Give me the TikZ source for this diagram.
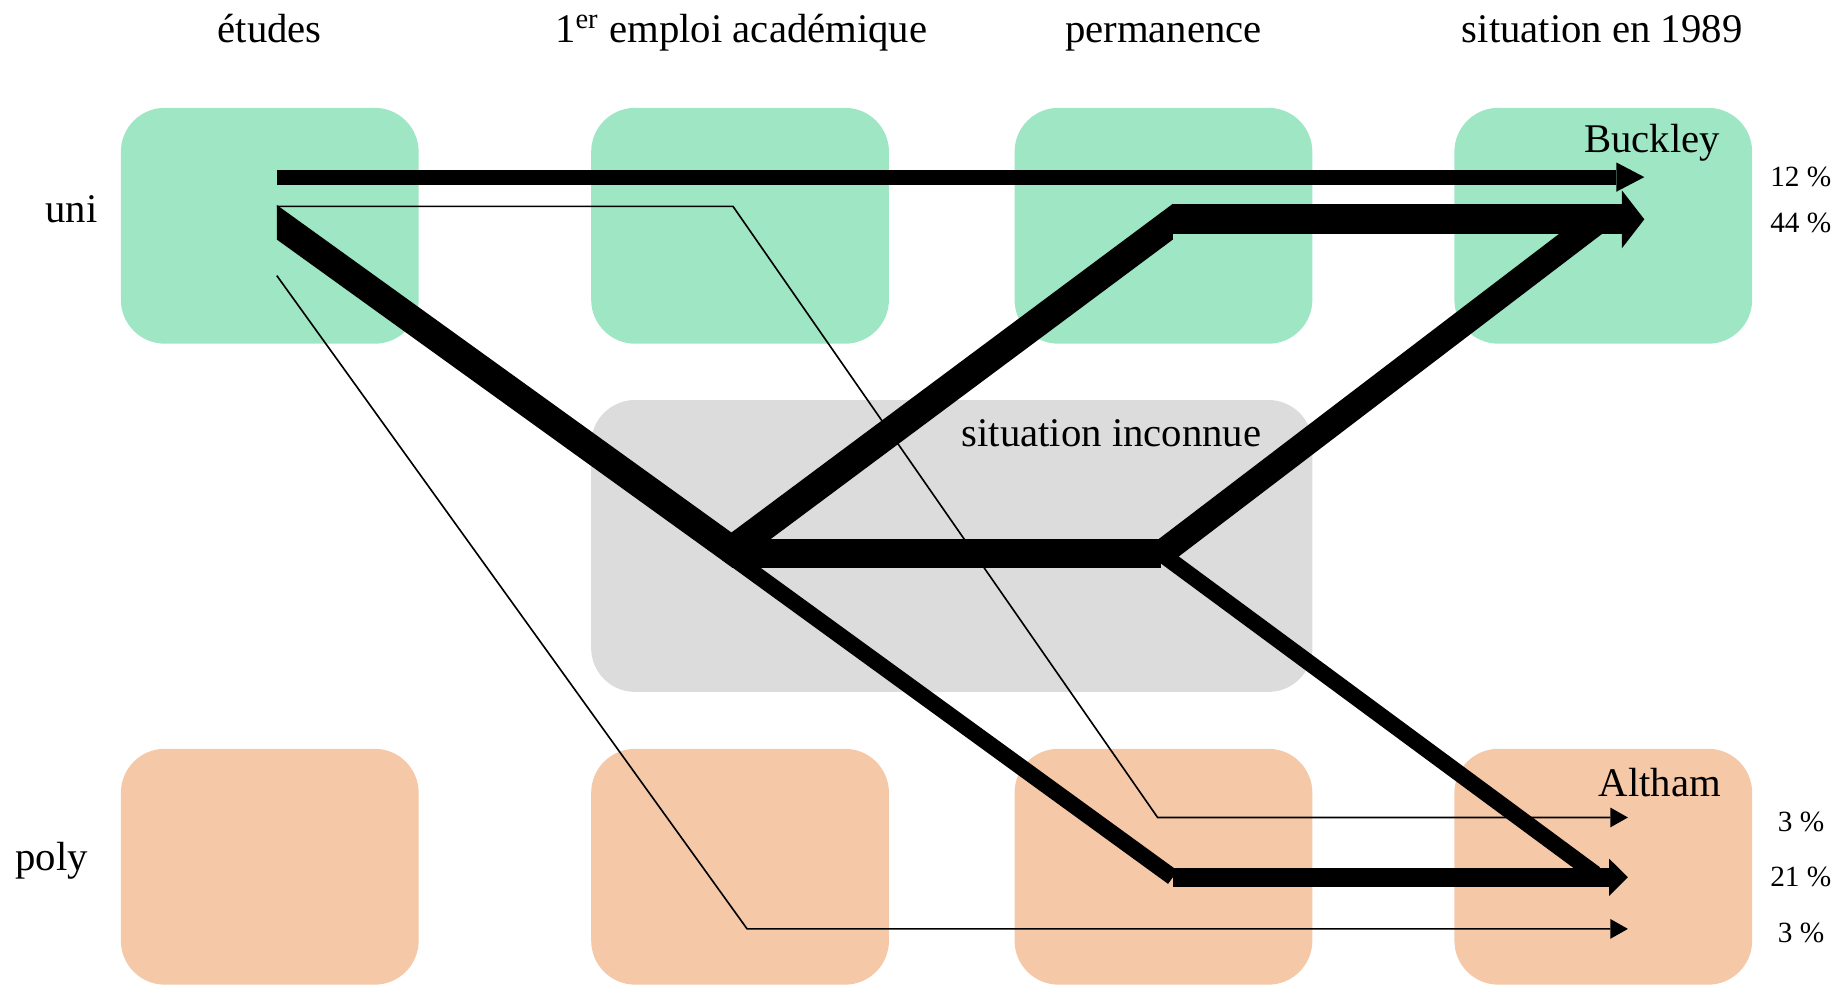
\documentclass[tikz,border=0pt]{standalone}
\usepackage{fontspec}
\setmainfont{Liberation Serif}
\usetikzlibrary{arrows.meta,positioning}
\definecolor{unigreen}{RGB}{158,230,196}
\definecolor{polyorange}{RGB}{245,200,168}
\definecolor{inconnugray}{RGB}{220,220,220}

\begin{document}
\begin{tikzpicture}[x=0.36pt,y=-0.36pt,
    box/.style={rounded corners=13.5pt,minimum width=91.4pt,minimum height=72.4pt,inner sep=0pt},
    flow/.style={line width=#1,line join=miter},
    arrowhd/.style 2 args={-{Triangle[length=#1,width=#2,line width=0pt]}},
    head/.style={font=\fontsize{12.5}{15}\selectfont,anchor=base,inner sep=0pt},
    pct/.style={font=\fontsize{9}{11}\selectfont,anchor=base east,inner sep=0pt}]
    \useasboundingbox (0,0) rectangle (1568,840);
    \node[box,fill=unigreen] (uni-etu) at (230,192.5) {};
    \node[box,fill=unigreen] (uni-emp) at (631,192.5) {};
    \node[box,fill=unigreen] (uni-perm) at (992,192.5) {};
    \node[box,fill=unigreen] (uni-sit) at (1367,192.5) {};
    \node[box,fill=inconnugray,minimum width=221.4pt,minimum height=89.6pt] (inc) at (811.5,465.5) {};
    \node[box,fill=polyorange] (poly-etu) at (230,739) {};
    \node[box,fill=polyorange] (poly-emp) at (631,739) {};
    \node[box,fill=polyorange] (poly-perm) at (992,739) {};
    \node[box,fill=polyorange] (poly-sit) at (1367,739) {};
    \node[head] (t-etu) at (230,36) {études};
    \node[head] (t-emp) at (632,36) {1\textsuperscript{er} emploi académique};
    \node[head] (t-perm) at (992,36) {permanence};
    \node[head] (t-sit) at (1366,36) {situation en 1989};
    \node[head] (uni) at (61,190) {uni};
    \node[head] (poly) at (44,742) {poly};
    \node[head,anchor=base east] (buckley) at (1467,130) {Buckley};
    \node[head,anchor=base east] (inconnue) at (1076,381) {situation inconnue};
    \node[head,anchor=base east] (altham) at (1468,679) {Altham};
    \node[pct] (p12) at (1562,159) {12 \%};
    \node[pct] (p44) at (1562,198) {44 \%};
    \node[pct] (p3u) at (1556,709) {3 \%};
    \node[pct] (p21) at (1562,756) {21 \%};
    \node[pct] (p3l) at (1556,804) {3 \%};
    % points de passage
    \coordinate (u12) at (236,151);
    \coordinate (uth) at (236,176);
    \coordinate (ud) at (236,189.5);
    \coordinate (ul) at (236,235);
    \coordinate (e1) at (625,176);
    \coordinate (e3) at (637,792);
    \coordinate (ei) at (624,469);
    \coordinate (eh) at (624,472);
    \coordinate (eb) at (620,472);
    \coordinate (pB) at (1000,189);
    \coordinate (pb) at (1000,187);
    \coordinate (pi) at (990,472);
    \coordinate (pA) at (1000,748);
    \coordinate (pA3) at (987,697);
    \coordinate (sB) at (1360,190);
    \coordinate (sA) at (1360,745);
    \coordinate (b12) at (1402,151);
    \coordinate (b44) at (1402,187);
    \coordinate (a3u) at (1388,697);
    \coordinate (a21) at (1388,748);
    \coordinate (a3l) at (1388,792);
    % flux
    \draw[flow=0.5pt,arrowhd={5.4pt}{6.1pt}] (uth) -- (e1) -- (pA3) -- (a3u);
    \draw[flow=0.5pt,arrowhd={5.4pt}{6.1pt}] (ul) -- (e3) -- (a3l);
    \draw[flow=4.6pt,arrowhd={8.6pt}{9pt}] (u12) -- (b12);
    \begin{scope}
        \clip (236,0) rectangle (624,840);
        \draw[flow=8.6pt,shorten <=-8pt,shorten >=-8pt] (ud) -- (ei);
    \end{scope}
    \begin{scope}
        \clip (600,0) rectangle (1000,840);
        \draw[flow=8.8pt,shorten >=-8pt] (eb) -- (pB);
    \end{scope}
    \draw[flow=8.7pt] (eh) -- (pi);
    \draw[flow=5pt] (eb) -- (pA);
    \draw[flow=5pt] (pi) -- (sA);
    \draw[flow=8pt] (pi) -- (sB);
    \draw[flow=9.2pt,arrowhd={6.9pt}{17.8pt}] (pb) -- (b44);
    \draw[flow=6pt,arrowhd={5.8pt}{11.5pt}] (pA) -- (a21);
\end{tikzpicture}
\end{document}
